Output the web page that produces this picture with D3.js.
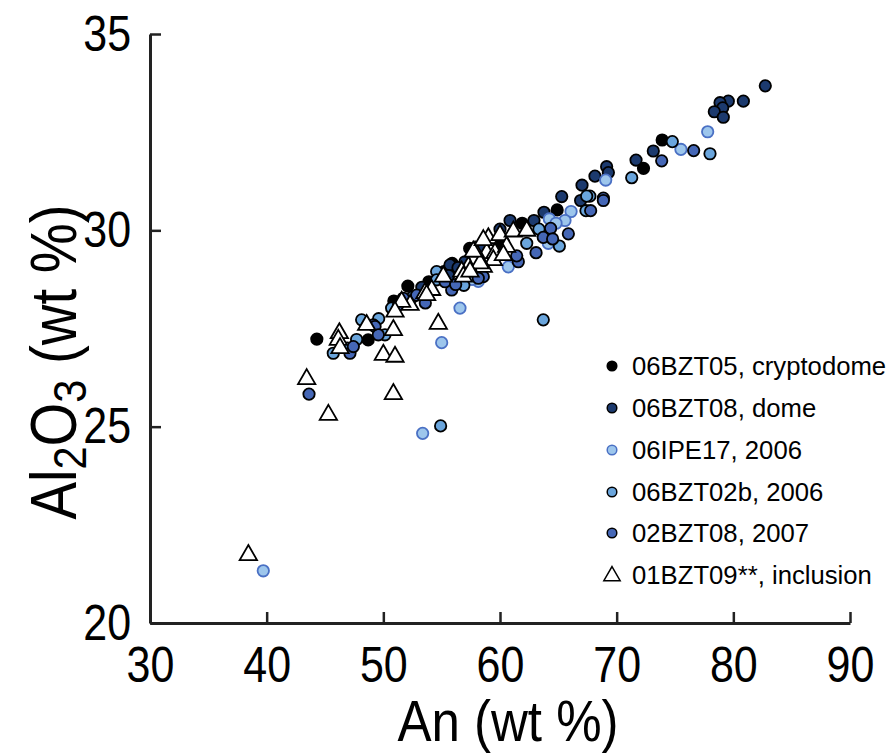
<!DOCTYPE html>
<html>
<head>
<meta charset="utf-8">
<script src="https://cdn.jsdelivr.net/npm/d3@7"></script>
<style>
  body { margin: 0; background: #fff; }
  svg text { font-family: "Liberation Sans", Arial, Helvetica, sans-serif; fill: #000; }
</style>
</head>
<body>
<div id="chart"></div>
<script>
// Width and height
var chartWidth  = 891;
var chartHeight = 755;

// axis ticks
var xTicks = [30, 40, 50, 60, 70, 80, 90];
var yTicks = [20, 25, 30, 35];

// data: [An, Al2O3]
var bzt05 = [[44.3,27.23],[48.7,27.21],[52.1,28.58],[53.9,28.69],[55.9,29.16],[57.4,29.54],
  [59.9,29.68],[61.9,30.18],[64.9,30.52],[72.3,31.58],[73.9,32.3],[50.9,28.2],[55.2,28.95]];
var bzt08 = [[82.74,33.68],[80.86,33.29],[79.57,33.29],[78.86,33.25],[79.09,33.12],[78.37,33.02],
  [79.14,32.88],[73.14,32.02],[71.66,31.79],[69.14,31.62],[69.29,31.47],[68.14,31.38],[67.03,31.15],
  [66.91,30.76],[65.29,30.86],[63.77,30.46],[62.91,30.25],[60.86,30.25],[60.0,30.03],[55.71,29.12],
  [57.0,29.2],[55.6,28.85],[56.4,29.05],[58.6,29.55],[53.3,28.55]];
var ipe17 = [[77.8,32.51],[75.51,32.06],[69.06,31.28],[66.09,30.48],[65.57,30.25],[64.23,30.29],
  [64.8,30.18],[64.14,29.67],[60.71,29.07],[56.57,28.02],[55.0,27.14],[53.37,24.83],[39.71,21.33],
  [58.14,28.7],[57.6,28.75]];
var bzt02b = [[74.77,32.26],[78.0,31.95],[71.29,31.34],[67.7,30.87],[67.43,30.87],[67.37,30.5],
  [63.34,30.03],[65.09,29.6],[62.29,29.67],[63.71,27.72],[54.57,28.95],[50.71,28.02],[45.71,26.87],
  [47.71,27.22],[48.14,27.72],[50.14,27.34],[54.91,25.02],[54.57,28.74],[52.5,28.3],[49.6,27.75],
  [46.9,27.0],[56.9,28.6]];
var bzt08b = [[76.6,32.03],[73.86,31.77],[68.86,30.82],[67.77,30.5],[68.86,30.76],[64.34,30.05],
  [63.71,29.82],[64.51,29.78],[65.86,29.91],[63.09,29.43],[61.57,29.2],[61.43,29.35],[58.57,28.82],
  [58.14,28.78],[55.86,28.48],[55.29,28.69],[51.71,28.27],[52.86,28.35],[49.14,27.59],[47.14,26.87],
  [47.43,27.04],[49.29,27.55],[49.57,27.34],[43.63,25.83],[51.3,28.1],[53.6,28.15],[56.2,28.62]];
var bzt09 = [[59.0,29.8],[60.0,29.88],[61.14,29.97],[62.29,29.99],[58.86,29.42],[59.57,29.42],
  [60.57,29.58],[59.43,29.24],[58.57,29.07],[57.86,29.46],[60.29,29.37],[57.29,29.07],[56.71,28.95],
  [58.29,29.16],[55.14,28.82],[54.14,28.48],[53.57,28.4],[52.29,28.1],[51.57,28.18],[51.0,27.93],
  [54.71,27.62],[46.23,27.38],[46.14,27.21],[46.29,27.0],[48.57,27.59],[50.86,27.46],[50.0,26.83],
  [51.0,26.78],[43.43,26.21],[45.29,25.3],[50.86,25.83],[38.43,21.73],[53.71,28.35],[56.86,28.82],
  [57.43,28.95],[57.71,29.46],[58.57,29.75]];

var seriesNames = ['06BZT05, cryptodome', '06BZT08, dome', '06IPE17, 2006',
  '06BZT02b, 2006', '02BZT08, 2007', '01BZT09**, inclusion'];

var series = [
  {name: seriesNames[0], data: bzt05,  fill: '#000000', stroke: '#000000'},
  {name: seriesNames[1], data: bzt08,  fill: '#1c3a6e', stroke: '#000000'},
  {name: seriesNames[2], data: ipe17,  fill: '#9dc6ec', stroke: '#4a70c4'},
  {name: seriesNames[3], data: bzt02b, fill: '#6aa5dc', stroke: '#000000'},
  {name: seriesNames[4], data: bzt08b, fill: '#4567b6', stroke: '#000000'}
];

var x = d3.scaleLinear().domain([30, 90]).range([150, 850]);
var y = d3.scaleLinear().domain([20, 35]).range([623, 34]);

var svg = d3.select('#chart')
  .append('svg')
  .attr('width', chartWidth)
  .attr('height', chartHeight);

// Axes (inward ticks)
var xAxis = svg.append('g')
  .attr('transform', 'translate(0,623)')
  .call(d3.axisBottom(x).tickValues(xTicks).tickSizeInner(-11).tickSizeOuter(0).tickPadding(24));
var yAxis = svg.append('g')
  .attr('transform', 'translate(150,0)')
  .call(d3.axisLeft(y).tickValues(yTicks).tickSizeInner(-11).tickSizeOuter(0).tickPadding(22));

[xAxis, yAxis].forEach(function(ax){
  ax.select('.domain').attr('stroke', '#222').attr('stroke-width', 3);
  ax.selectAll('.tick line').attr('stroke', '#222').attr('stroke-width', 2.5);
  ax.selectAll('.tick text')
    .style('font-size', '50px')
    .attr('transform', 'scale(0.86,1)')
    .attr('fill', '#000');
});

// Points
var sym = d3.symbol().type(d3.symbolTriangle).size(130);

series.forEach(function(s){
  svg.append('g').selectAll('circle')
    .data(s.data)
    .enter()
    .append('circle')
    .attr('cx', function(d){ return x(d[0]); })
    .attr('cy', function(d){ return y(d[1]); })
    .attr('r', 5.7)
    .attr('fill', s.fill)
    .attr('stroke', s.stroke)
    .attr('stroke-width', 1.8);
});

svg.append('g').selectAll('path')
  .data(bzt09)
  .enter()
  .append('path')
  .attr('d', sym)
  .attr('transform', function(d){ return 'translate(' + x(d[0]) + ',' + y(d[1]) + ')'; })
  .attr('fill', '#fff')
  .attr('stroke', '#000')
  .attr('stroke-width', 1.8);

// Axis titles
svg.append('text')
  .attr('transform', 'translate(508,741) scale(0.88,1)')
  .attr('text-anchor', 'middle')
  .style('font-size', '58px')
  .text('An (wt %)');

var yt = svg.append('text')
  .attr('transform', 'translate(76,362) rotate(-90) scale(0.88,1)')
  .attr('text-anchor', 'middle')
  .style('font-size', '64px');
yt.append('tspan').text('Al');
yt.append('tspan').attr('dy', 10).style('font-size', '47px').text('2');
yt.append('tspan').attr('dy', -10).text('O');
yt.append('tspan').attr('dy', 10).style('font-size', '47px').text('3');
yt.append('tspan').attr('dy', -10).text(' (wt %)');

// Legend
var legendY = [366, 408, 450, 492, 533, 575];
var legend = svg.append('g');
series.forEach(function(s, i){
  legend.append('circle')
    .attr('cx', 612).attr('cy', legendY[i]).attr('r', 4.8)
    .attr('fill', s.fill).attr('stroke', s.stroke).attr('stroke-width', 1.5);
  legend.append('text')
    .attr('x', 632).attr('y', legendY[i]).attr('dy', '0.36em')
    .style('font-size', '25.7px')
    .text(s.name);
});
legend.append('path')
  .attr('d', d3.symbol().type(d3.symbolTriangle).size(115))
  .attr('transform', 'translate(612,' + (legendY[5] + 1) + ')')
  .attr('fill', '#fff').attr('stroke', '#000').attr('stroke-width', 1.5);
legend.append('text')
  .attr('x', 632).attr('y', legendY[5]).attr('dy', '0.36em')
  .style('font-size', '25.7px')
  .text(seriesNames[5]);
</script>
</body>
</html>
